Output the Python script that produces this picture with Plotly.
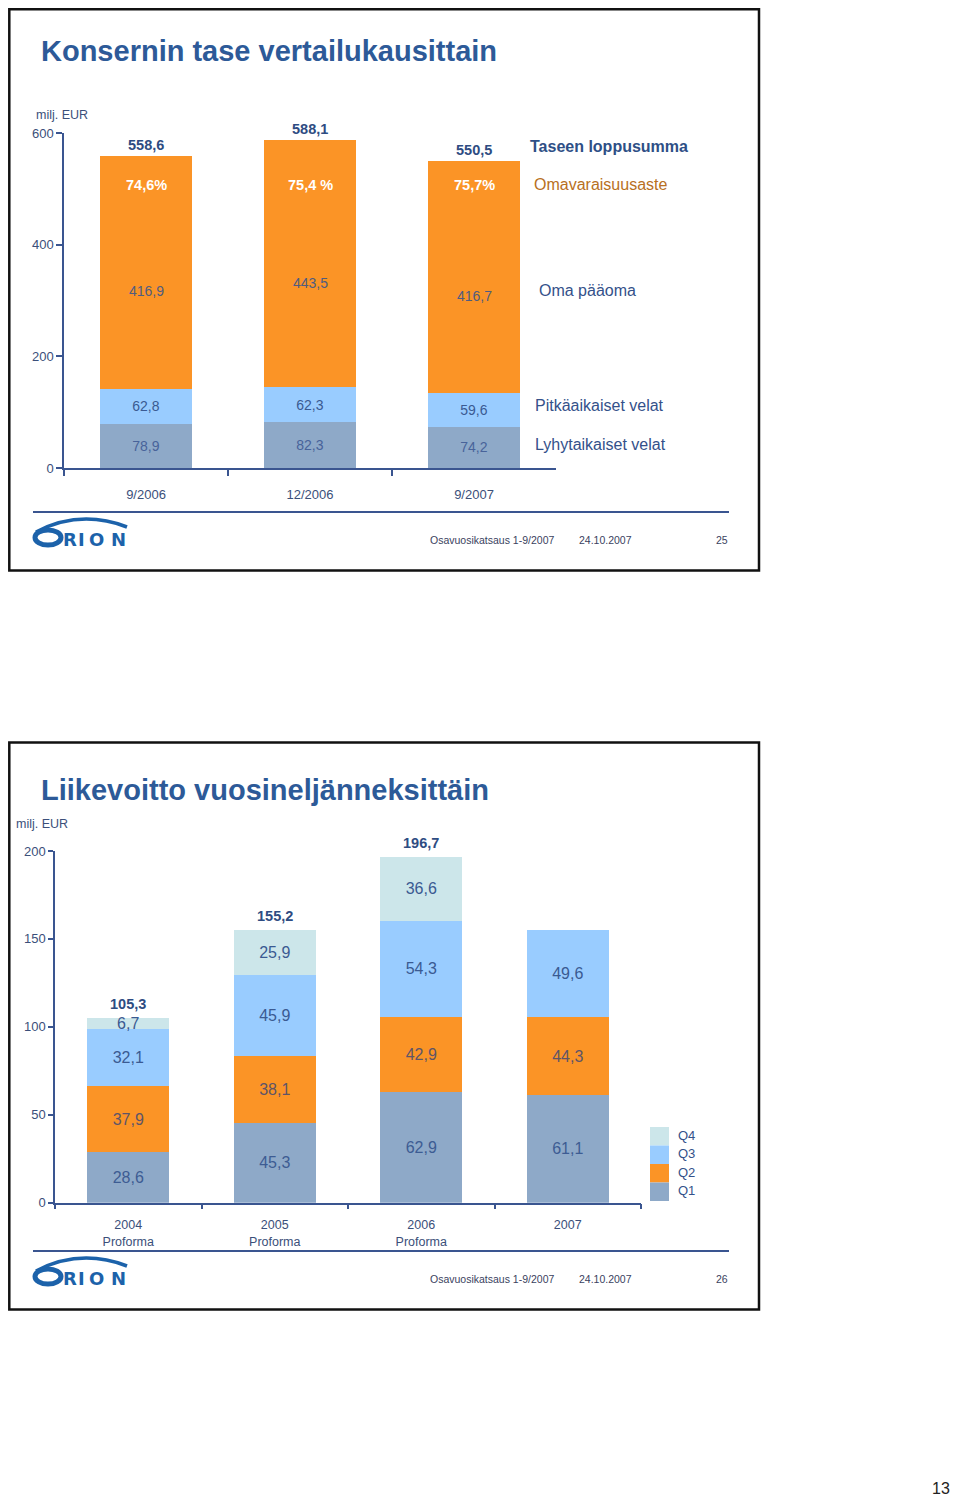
import plotly.graph_objects as go

# The page puts the figure 8 px in from the top-left corner (body margin),
# so target-page pixel positions are shifted by OFF when converted to paper units.
W, H = 960, 1502
OFF = 8


def px(x):
    return (x - OFF) / W


def py(y):
    return 1 - (y - OFF) / H


def fmt(v):
    return f"{v:.1f}".replace(".", ",")


# ---------------- data: slide 25 (balance sheet) ----------------
periods = ["9/2006", "12/2006", "9/2007"]
short_term = [78.9, 82.3, 74.2]          # Lyhytaikaiset velat
long_term = [62.8, 62.3, 59.6]           # Pitkäaikaiset velat
equity = [416.9, 443.5, 416.7]           # Oma pääoma
totals_top = [558.6, 588.1, 550.5]       # Taseen loppusumma
equity_ratio = ["74,6%", "75,4 %", "75,7%"]  # Omavaraisuusaste
top_ticks = [0, 200, 400, 600]

# ---------------- data: slide 26 (operating profit) ----------------
years = ["2004<br>Proforma", "2005<br>Proforma", "2006<br>Proforma", "2007"]
q1 = [28.6, 45.3, 62.9, 61.1]
q2 = [37.9, 38.1, 42.9, 44.3]
q3 = [32.1, 45.9, 54.3, 49.6]
q4 = [6.7, 25.9, 36.6, 0]
totals_bottom = [105.3, 155.2, 196.7, 154.9]
bottom_ticks = [0, 50, 100, 150, 200]
quarters = ["Q1", "Q2", "Q3", "Q4"]

# ---------------- styles ----------------
ORANGE = "#FB9426"
LBLUE = "#99CCFF"
GBLUE = "#8EA9C8"
CYAN = "#CCE6EA"
AXIS = "#3A5590"
NAVY = "#2E4C82"
TITLE = "#2D5A98"
LOGO = "#1C62AA"
SANS = "Liberation Sans, Arial, sans-serif"
TICKC = "#3B4F7A"

fig = go.Figure()

# top chart bars
fig.add_trace(go.Bar(
    x=periods, y=short_term, xaxis="x", yaxis="y", marker=dict(color=GBLUE, line=dict(width=0)),
    width=0.555, text=[fmt(v) for v in short_term], textposition="inside",
    insidetextanchor="middle", constraintext="none", textangle=0,
    textfont=dict(family=SANS, size=14, color="#48639A"), name="Lyhytaikaiset velat"))
fig.add_trace(go.Bar(
    x=periods, y=long_term, xaxis="x", yaxis="y", marker=dict(color=LBLUE, line=dict(width=0)),
    width=0.555, text=[fmt(v) for v in long_term], textposition="inside",
    insidetextanchor="middle", constraintext="none", textangle=0,
    textfont=dict(family=SANS, size=14, color="#3A5A92"), name="Pitkäaikaiset velat"))
fig.add_trace(go.Bar(
    x=periods, y=equity, xaxis="x", yaxis="y", marker=dict(color=ORANGE, line=dict(width=0)),
    width=0.555, name="Oma pääoma"))

# bottom chart bars
qcolors = [GBLUE, ORANGE, LBLUE, CYAN]
qtext = ["#3D5C93", "#5E5468", "#3A5A92", "#3A5A92"]
for name, vals, col, tc in zip(quarters, [q1, q2, q3, q4], qcolors, qtext):
    fig.add_trace(go.Bar(
        x=years, y=vals, xaxis="x2", yaxis="y2", marker=dict(color=col, line=dict(width=0)),
        width=0.56, text=[fmt(v) if v else "" for v in vals], textposition="inside",
        insidetextanchor="middle", constraintext="none", textangle=0,
        textfont=dict(family=SANS, size=16, color=tc), name=name))

ann = []
shapes = []


def note(x, y, text, size, color, xanchor="left", bold=False, family=SANS):
    ann.append(dict(x=px(x), y=py(y), xref="paper", yref="paper",
                    text=f"<b>{text}</b>" if bold else text, showarrow=False,
                    xanchor=xanchor, yanchor="middle",
                    font=dict(family=family, size=size, color=color)))


# ---- top chart annotations ----
for p, t, e, lt, st, r in zip(periods, totals_top, equity, long_term, short_term, equity_ratio):
    ann.append(dict(x=p, y=t, xref="x", yref="y", text=f"<b>{fmt(t)}</b>", showarrow=False,
                    xanchor="center", yanchor="bottom", yshift=1,
                    font=dict(family=SANS, size=14.5, color=NAVY)))
    ann.append(dict(x=p, y=507, xref="x", yref="y", text=f"<b>{r}</b>", showarrow=False,
                    xanchor="center", yanchor="middle", font=dict(family=SANS, size=14.5, color="white")))
    ann.append(dict(x=p, y=st + lt + 0.42 * e, xref="x", yref="y", text=fmt(e), showarrow=False,
                    xanchor="center", yanchor="middle", font=dict(family=SANS, size=14, color="#4F5C80")))

right_labels = [
    ("Taseen loppusumma", 528, 147, "#2E4F86", True),
    ("Omavaraisuusaste", 532, 185, "#B86F22", False),
    ("Oma pääoma", 537, 291, "#34518A", False),
    ("Pitkäaikaiset velat", 533, 405, "#34518A", False),
    ("Lyhytaikaiset velat", 533, 445, "#34518A", False),
]
for txt, x, y, c, b in right_labels:
    note(x, y, txt, 16, c, bold=b)

# ---- bottom chart annotations ----
for yv, t in zip(years, totals_bottom):
    ann.append(dict(x=yv, y=t, xref="x2", yref="y2", text=f"<b>{fmt(t)}</b>", showarrow=False,
                    xanchor="center", yanchor="bottom", yshift=4,
                    font=dict(family=SANS, size=14.5, color=NAVY)))

# legend (custom, contiguous swatches)
leg_rows = [("Q4", CYAN, 1127), ("Q3", LBLUE, 1145.5), ("Q2", ORANGE, 1164), ("Q1", GBLUE, 1182.5)]
for lab, col, y0 in leg_rows:
    shapes.append(dict(type="rect", xref="paper", yref="paper", x0=px(650), x1=px(669),
                       y0=py(y0), y1=py(y0 + 18.5), fillcolor=col, line=dict(width=0)))
    note(676, y0 + 8, lab, 13, "#34518A")

# ---- titles, units ----
note(39, 51, "Konsernin tase vertailukausittain", 29, TITLE, bold=True)
note(39, 790, "Liikevoitto vuosineljänneksittäin", 29, TITLE, bold=True)
note(34, 115, "milj. EUR", 12.5, TICKC)
note(14, 824, "milj. EUR", 12.5, TICKC)

# ---- slide frames, footers, logos ----
for top, bottom, line_y, page in [(9.3, 570.5, 512, "25"), (742.5, 1309.5, 1251, "26")]:
    shapes.append(dict(type="rect", xref="paper", yref="paper", x0=px(9.3), x1=px(759), y0=py(top),
                       y1=py(bottom), line=dict(color="#111111", width=2.5)))
    shapes.append(dict(type="line", xref="paper", yref="paper", x0=px(33), x1=px(729), y0=py(line_y),
                       y1=py(line_y), line=dict(color=AXIS, width=2)))
    ty = line_y + 28
    for txt, x in [("Osavuosikatsaus 1-9/2007", 428), ("24.10.2007", 577), (page, 714)]:
        note(x, ty, txt, 10.5, "#3A4260")
    # logo
    o = line_y - 512
    shapes.append(dict(type="path", xref="paper", yref="paper",
                       path=f"M {px(36)},{py(532 + o)} Q {px(80)},{py(509 + o)} {px(127)},{py(527 + o)}",
                       line=dict(color=LOGO, width=3.5)))
    shapes.append(dict(type="circle", xref="paper", yref="paper", x0=px(35), x1=px(61),
                       y0=py(530 + o), y1=py(545 + o), line=dict(color=LOGO, width=5),
                       fillcolor="rgba(0,0,0,0)"))
    for ch, cx in [("R", 70), ("I", 81.5), ("O", 96.5), ("N", 118)]:
        note(cx, 539 + o, ch, 18, LOGO, xanchor="center", bold=True, family="DejaVu Sans, sans-serif")

note(941, 1488, "13", 16, "#222222", xanchor="center")

axis_common = dict(showline=True, linecolor=AXIS, linewidth=1.5, ticks="outside", tickcolor=AXIS,
                   tickwidth=1.5, showgrid=False, zeroline=False, fixedrange=True, automargin=False)

fig.update_layout(
    width=W, height=H, margin=dict(l=0, r=0, t=0, b=0, autoexpand=False),
    paper_bgcolor="white", plot_bgcolor="rgba(0,0,0,0)",
    barmode="stack", showlegend=False, hovermode=False,
    xaxis=dict(domain=[px(64), px(556)], anchor="y", type="category", range=[-0.5, 2.5],
               tickson="boundaries", ticklen=6, ticklabelstandoff=14,
               tickfont=dict(family=SANS, size=13, color=TICKC), **axis_common),
    yaxis=dict(domain=[py(468), py(133)], anchor="x", range=[0, 600], tickvals=top_ticks, ticklen=6,
               tickfont=dict(family=SANS, size=13, color=TICKC), **axis_common),
    xaxis2=dict(domain=[px(55), px(641)], anchor="y2", type="category", range=[-0.5, 3.5],
                tickson="boundaries", ticklen=5, ticklabelstandoff=10,
                tickfont=dict(family=SANS, size=12.5, color=TICKC), **axis_common),
    yaxis2=dict(domain=[py(1202.7), py(851)], anchor="x2", range=[0, 200], tickvals=bottom_ticks, ticklen=5,
                tickfont=dict(family=SANS, size=13, color=TICKC), **axis_common),
    annotations=ann, shapes=shapes,
)

fig.write_html("out.html")
